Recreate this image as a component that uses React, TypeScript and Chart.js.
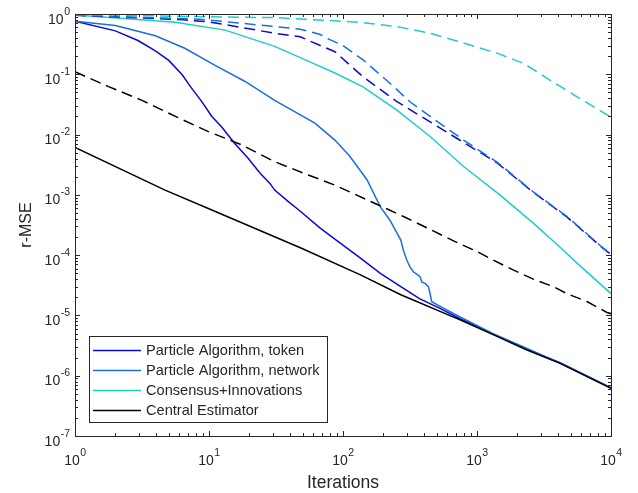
import React, { useEffect, useRef } from 'react';
import { Chart, registerables } from 'chart.js';

Chart.register(...registerables);

// ---- data ----
const tokenIter = [1, 2.0, 2.95, 3.98, 5.01, 6.31, 7.41, 8.81, 10.5, 12.4, 15.5, 19.5, 24, 28.5, 30.9, 38.9, 46.8, 67.6, 89, 135, 190, 270, 372, 525, 740, 1320, 2340, 4170, 10000];
const tokenMSE = [0.76, 0.525, 0.363, 0.245, 0.17, 0.098, 0.059, 0.0355, 0.02, 0.0135, 7.2e-3, 4.1e-3, 2.3e-3, 1.55e-3, 1.2e-3, 7.8e-4, 5.6e-4, 2.8e-4, 1.78e-4, 8.9e-5, 5.0e-5, 3.0e-5, 1.9e-5, 1.32e-5, 8.9e-6, 4.9e-6, 2.75e-6, 1.64e-6, 6.3e-7];

const networkIter = [1, 2.0, 3.98, 6.6, 11.1, 18.6, 30.9, 61.7, 87, 112, 151, 190, 224, 270, 282, 299, 316, 335, 376, 387, 409, 434, 446, 459, 561, 741, 1320, 2340, 4170, 10000];
const networkMSE = [0.76, 0.645, 0.436, 0.27, 0.141, 0.076, 0.037, 0.0155, 8.1e-3, 4.4e-3, 1.78e-3, 6.3e-4, 3.8e-4, 1.78e-4, 1.22e-4, 8.3e-5, 6.4e-5, 5.3e-5, 4.4e-5, 3.6e-5, 3.4e-5, 3.0e-5, 2.33e-5, 1.69e-5, 1.32e-5, 9.5e-6, 5.0e-6, 2.85e-6, 1.62e-6, 6.3e-7];

const consensusIter = [1, 5.6, 13.2, 30.9, 55, 87, 141, 251, 447, 794, 1480, 2630, 4170, 5500, 10000];
const consensusMSE = [0.96, 0.73, 0.54, 0.29, 0.165, 0.105, 0.062, 0.0257, 9.3e-3, 2.95e-3, 1.0e-3, 3.4e-4, 1.35e-4, 7.6e-5, 2.3e-5];

const centralIter = [1, 4.7, 10.5, 49, 135, 270, 740, 1320, 2340, 4170, 10000];
const centralMSE = [6.1e-3, 1.2e-3, 5.6e-4, 1.3e-4, 4.7e-5, 2.2e-5, 8.5e-6, 4.8e-6, 2.7e-6, 1.6e-6, 6.2e-7];

const tokenDashIter = [1, 6.46, 10, 30.9, 47.9, 67.6, 87, 141, 251, 447, 794, 1410, 2630, 4680, 8710, 10000];
const tokenDashMSE = [0.955, 0.8, 0.74, 0.48, 0.42, 0.30, 0.237, 0.091, 0.0355, 0.0162, 7.4e-3, 3.4e-3, 1.1e-3, 4.3e-4, 1.3e-4, 1.03e-4];

const networkDashIter = [1, 8.5, 30.9, 47.9, 67.6, 79, 100, 141, 224, 316, 447, 794, 1410, 2630, 4680, 8710, 10000];
const networkDashMSE = [0.955, 0.82, 0.62, 0.56, 0.457, 0.38, 0.30, 0.174, 0.071, 0.035, 0.02, 8.1e-3, 3.5e-3, 1.12e-3, 4.4e-4, 1.32e-4, 1.05e-4];

const consensusDashIter = [1, 10, 30.9, 79, 141, 251, 447, 794, 1410, 2240, 3470, 6170, 10000];
const consensusDashMSE = [0.98, 0.9, 0.87, 0.78, 0.72, 0.62, 0.48, 0.33, 0.224, 0.151, 0.081, 0.037, 0.0195];

const centralDashIter = [1, 1.78, 3.16, 5.62, 9.9, 17.4, 30.9, 55, 87, 288, 692, 1000, 1320, 1860, 2630, 3720, 4680, 6610, 9330, 10000];
const centralDashMSE = [0.11, 0.0624, 0.037, 0.02, 0.0112, 6.8e-3, 3.55e-3, 2.14e-3, 1.45e-3, 4.3e-4, 1.66e-4, 1.15e-4, 8.3e-5, 5.7e-5, 4.0e-5, 3.0e-5, 2.3e-5, 1.7e-5, 1.12e-5, 1.07e-5];

const legendLabels = ['Particle Algorithm, token', 'Particle Algorithm, network', 'Consensus+Innovations', 'Central Estimator'];
const seriesColors = ['#0a0ad2', '#1a6fdc', '#1fcccc', '#000000'];

const xTickValues = [1, 10, 100, 1000, 10000];
const xTickExponents = ['0', '1', '2', '3', '4'];
const yTickValues = [1e-7, 1e-6, 1e-5, 1e-4, 1e-3, 1e-2, 1e-1, 1];
const yTickExponents = ['-7', '-6', '-5', '-4', '-3', '-2', '-1', '0'];

const FONT = '"Liberation Sans", Arial, Helvetica, sans-serif';
const AXIS = '#262626';

function pts(xs: number[], ys: number[]) {
  return xs.map((x, i) => ({ x, y: ys[i] }));
}

const decorPlugin = {
  id: 'decor',
  afterDraw(chart: any) {
    const { ctx, chartArea: a, scales } = chart;
    const xs = scales.x;
    const ys = scales.y;
    ctx.save();
    ctx.strokeStyle = AXIS;
    ctx.lineWidth = 1;
    ctx.beginPath();
    xTickValues.forEach((v, i) => {
      for (let k = 1; k <= 9; k++) {
        if (k > 1 && i === xTickValues.length - 1) continue;
        const px = Math.round(xs.getPixelForValue(v * k)) + 0.5;
        const len = k === 1 ? 5 : 3;
        ctx.moveTo(px, a.bottom);
        ctx.lineTo(px, a.bottom - len);
        ctx.moveTo(px, a.top);
        ctx.lineTo(px, a.top + len);
      }
    });
    yTickValues.forEach((v, i) => {
      for (let k = 1; k <= 9; k++) {
        if (k > 1 && i === yTickValues.length - 1) continue;
        const py = Math.round(ys.getPixelForValue(v * k)) + 0.5;
        const len = k === 1 ? 5 : 3;
        ctx.moveTo(a.left, py);
        ctx.lineTo(a.left + len, py);
        ctx.moveTo(a.right, py);
        ctx.lineTo(a.right - len, py);
      }
    });
    ctx.stroke();
    ctx.strokeRect(Math.round(a.left) + 0.5, Math.round(a.top) + 0.5, Math.round(a.right - a.left), Math.round(a.bottom - a.top));

    const baseFont = `14px ${FONT}`;
    const expFont = `10.5px ${FONT}`;
    ctx.fillStyle = AXIS;
    ctx.textBaseline = 'alphabetic';
    xTickValues.forEach((v, i) => {
      const px = xs.getPixelForValue(v);
      ctx.font = baseFont;
      const bw = ctx.measureText('10').width;
      ctx.font = expFont;
      const ew = ctx.measureText(xTickExponents[i]).width;
      const start = px - (bw + ew) / 2;
      ctx.textAlign = 'left';
      ctx.font = baseFont;
      ctx.fillText('10', start, a.bottom + 29);
      ctx.font = expFont;
      ctx.fillText(xTickExponents[i], start + bw + 0.5, a.bottom + 20);
    });
    yTickValues.forEach((v, i) => {
      const py = ys.getPixelForValue(v);
      const right = a.left - 5;
      ctx.font = expFont;
      const ew = ctx.measureText(yTickExponents[i]).width;
      ctx.textAlign = 'right';
      ctx.fillText(yTickExponents[i], right, py + 0.5);
      ctx.font = baseFont;
      ctx.fillText('10', right - ew - 0.5, py + 9.5);
    });

    const lw = 238;
    const lh = 86;
    const lx = Math.round(a.left) + 14;
    const ly = Math.round(a.bottom) - 14 - lh;
    ctx.fillStyle = '#ffffff';
    ctx.fillRect(lx, ly, lw, lh);
    ctx.strokeStyle = AXIS;
    ctx.lineWidth = 1;
    ctx.strokeRect(lx + 0.5, ly + 0.5, lw, lh);
    ctx.font = `14.6px ${FONT}`;
    ctx.textAlign = 'left';
    ctx.textBaseline = 'middle';
    legendLabels.forEach((label, i) => {
      const y = ly + 14.5 + 20 * i;
      ctx.strokeStyle = seriesColors[i];
      ctx.lineWidth = 1.5;
      ctx.beginPath();
      ctx.moveTo(lx + 4, y);
      ctx.lineTo(lx + 52, y);
      ctx.stroke();
      ctx.fillStyle = AXIS;
      ctx.fillText(label, lx + 57, y + 0.5);
    });
    ctx.restore();
  },
};

export default function App() {
  const ref = useRef<HTMLCanvasElement | null>(null);

  useEffect(() => {
    if (!ref.current) return;
    const solid = (label: string, color: string, data: any[]) => ({
      label, data, borderColor: color, backgroundColor: color, borderWidth: 1.5,
      pointRadius: 0, tension: 0, fill: false,
    });
    const dashed = (label: string, color: string, data: any[]) => ({
      ...solid(label, color, data), borderDash: [11, 6],
    });
    const chart = new Chart(ref.current, {
      type: 'line',
      data: {
        datasets: [
          dashed('Consensus+Innovations (dashed)', seriesColors[2], pts(consensusDashIter, consensusDashMSE)),
          dashed('Particle Algorithm, network (dashed)', seriesColors[1], pts(networkDashIter, networkDashMSE)),
          dashed('Particle Algorithm, token (dashed)', seriesColors[0], pts(tokenDashIter, tokenDashMSE)),
          dashed('Central Estimator (dashed)', seriesColors[3], pts(centralDashIter, centralDashMSE)),
          solid(legendLabels[2], seriesColors[2], pts(consensusIter, consensusMSE)),
          solid(legendLabels[3], seriesColors[3], pts(centralIter, centralMSE)),
          solid(legendLabels[1], seriesColors[1], pts(networkIter, networkMSE)),
          solid(legendLabels[0], seriesColors[0], pts(tokenIter, tokenMSE)),
        ] as any,
      },
      options: {
        animation: false,
        responsive: false,
        maintainAspectRatio: false,
        devicePixelRatio: 1,
        layout: { padding: { top: 14, right: 27, left: 0, bottom: 0 } },
        plugins: { legend: { display: false }, tooltip: { enabled: false } },
        scales: {
          x: {
            type: 'logarithmic', min: 1, max: 10000,
            ticks: { display: false }, grid: { display: false }, border: { display: false },
            title: { display: true, text: 'Iterations', color: AXIS, font: { family: FONT, size: 17.5 }, padding: { top: 0, bottom: -1 } },
            afterFit: (s: any) => { s.height = 57; },
          },
          y: {
            type: 'logarithmic', min: 1e-7, max: 1,
            ticks: { display: false }, grid: { display: false }, border: { display: false },
            title: { display: true, text: 'r-MSE', color: AXIS, font: { family: FONT, size: 16 }, padding: { top: 17, bottom: 0 } },
            afterFit: (s: any) => { s.width = 75; },
          },
        },
      } as any,
      plugins: [decorPlugin],
    });
    return () => chart.destroy();
  }, []);

  return (
    <div style={{ position: 'fixed', left: 0, top: 0, width: 638, height: 493, background: '#fff' }}>
      <canvas ref={ref} width={638} height={493} style={{ width: 638, height: 493 }} />
    </div>
  );
}
